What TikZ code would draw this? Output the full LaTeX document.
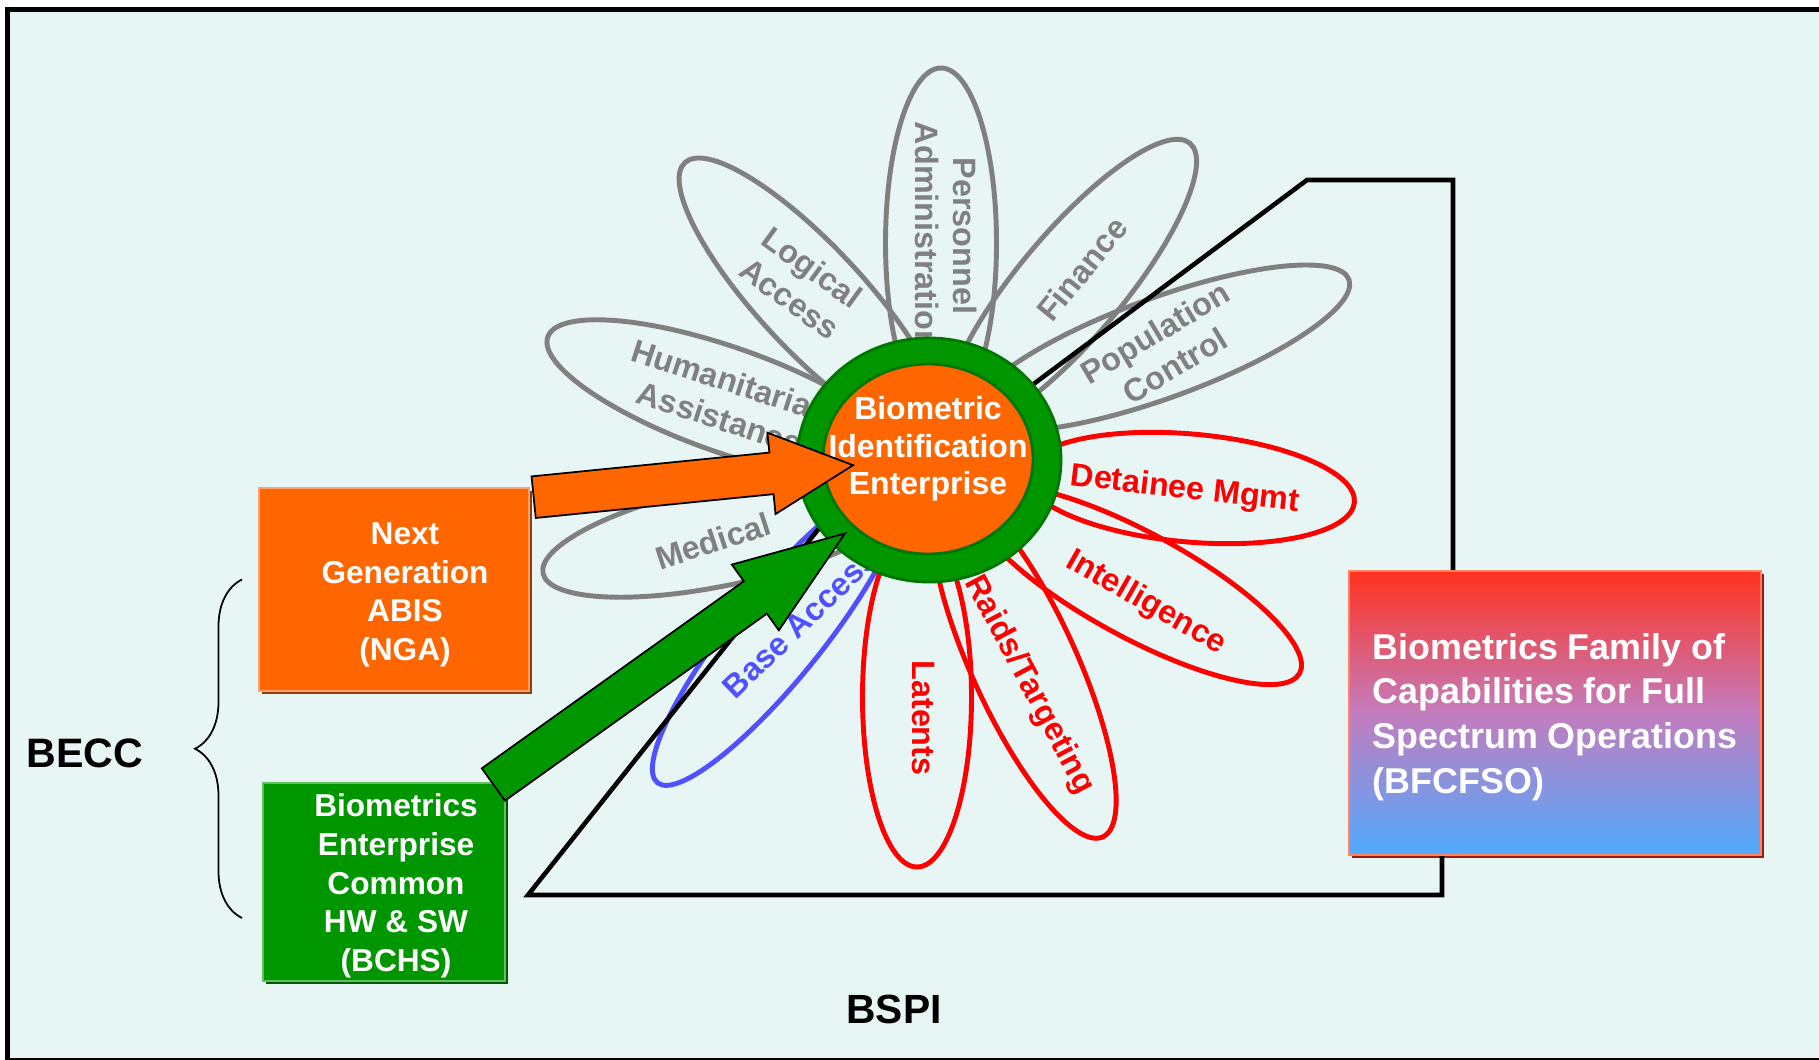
\documentclass[tikz,border=0pt]{standalone}
\usepackage{fontspec}
\setmainfont{Liberation Sans}
\usepackage{tikz}
\usetikzlibrary{shapes.geometric, shapes.arrows, decorations.pathreplacing, shadows}

\definecolor{bgcyan}{RGB}{232,245,245}
\definecolor{petalgray}{RGB}{128,128,128}
\definecolor{petalred}{RGB}{255,0,0}
\definecolor{petalblue}{RGB}{80,80,255}
\definecolor{hubgreen}{RGB}{0,150,0}
\definecolor{hubedge}{RGB}{0,118,0}
\definecolor{ngaorange}{RGB}{255,102,0}
\definecolor{ngalight}{RGB}{255,160,110}
\definecolor{ngadark}{RGB}{150,60,0}
\definecolor{bchslight}{RGB}{100,190,100}
\definecolor{bchsdark}{RGB}{0,90,0}
\definecolor{famtop}{RGB}{255,50,30}
\definecolor{fammid}{RGB}{195,125,190}
\definecolor{fambottom}{RGB}{80,170,255}
\definecolor{famlight}{RGB}{255,130,100}
\definecolor{famdark}{RGB}{150,30,10}

\begin{document}
\begin{tikzpicture}[
  every node/.style={font=\bfseries\fontsize{9.2}{11}\selectfont},
  petal/.style n args={2}{ellipse, draw=petalgray, line width=1.4pt, inner sep=0pt, minimum width=#1, minimum height=#2},
  graylabel/.style={text=petalgray, align=center, inner sep=0pt},
  redlabel/.style={text=petalred, align=center, inner sep=0pt},
  blockarrow/.style={single arrow, draw=black, line width=0.5pt, inner xsep=0pt, anchor=tip},
  box/.style={rectangle, inner sep=0pt, line width=0.6pt},
  boxtext/.style={text=white, align=center, inner sep=0pt},
  bspi/.style={line width=1.3pt},
]
  \useasboundingbox (0,0) rectangle (18.19,10.59);
  \fill[white] (0,0) rectangle (18.19,10.59);
  \draw[line width=1.4pt, fill=bgcyan] (0.075,10.495) rectangle (18.40,-0.015);

  % petals
  \node[petal={3.50cm}{1.11cm}, rotate=90] (pers) at (9.41,8.16) {};
  \node[petal={3.70cm}{1.05cm}, rotate=133] (logic) at (8.11,7.61) {};
  \node[petal={3.70cm}{1.05cm}, rotate=50] (fin) at (10.71,7.74) {};
  \node[petal={4.00cm}{1.00cm}, rotate=20] (pop) at (11.61,7.11) {};
  \node[petal={3.80cm}{1.05cm}, rotate=160.6] (hum) at (7.27,6.59) {};
  \node[petal={3.70cm}{1.00cm}, rotate=192] (med) at (7.24,5.24) {};
  \node[petal={3.80cm}{0.90cm}, rotate=231, draw=petalblue] (base) at (7.77,4.24) {};
  \node[petal={3.40cm}{1.09cm}, rotate=270, draw=petalred] (lat) at (9.17,3.62) {};
  \node[petal={3.80cm}{1.05cm}, rotate=294.5, draw=petalred] (raid) at (10.24,3.95) {};
  \node[petal={3.70cm}{1.05cm}, rotate=331.5, draw=petalred] (intel) at (11.37,4.74) {};
  \node[petal={3.30cm}{1.08cm}, rotate=355, draw=petalred] (det) at (11.90,5.71) {};

  \node[graylabel, rotate=-90] (perstext) at (9.46,8.23) {Personnel\\Administration};
  \node[graylabel, rotate=-36] (logictext) at (8.01,7.76) {Logical\\Access};
  \node[graylabel, rotate=51] (fintext) at (10.82,7.90) {Finance};
  \node[graylabel, rotate=31] (poptext) at (11.65,7.10) {Population\\Control};
  \node[graylabel, rotate=-18] (humtext) at (7.255,6.595) {Humanitarian\\Assistance};
  \node[graylabel, rotate=18] (medtext) at (7.13,5.18) {Medical};
  \node[graylabel, rotate=44, text=petalblue] (basetext) at (8.00,4.36) {Base Access};
  \node[redlabel, rotate=-90] (lattext) at (9.23,3.41) {Latents};
  \node[redlabel, rotate=-62] (raidtext) at (10.29,3.74) {Raids/Targeting};
  \node[redlabel, rotate=-29.6] (inteltext) at (11.46,4.56) {Intelligence};
  \node[redlabel, rotate=-6.6] (dettext) at (11.85,5.69) {Detainee Mgmt};

  % hub
  \node[ellipse, fill=hubgreen, draw=hubedge, line width=0.8pt, minimum width=2.64cm, minimum height=2.44cm] (hub) at (9.29,5.99) {};
  \node[ellipse, fill=ngaorange, draw=hubedge, line width=0.8pt, minimum width=2.10cm, minimum height=1.90cm] (core) at (9.28,6.00) {};
  \node[boxtext, font=\bfseries\fontsize{9.1}{10.7}\selectfont] (hubtext) at (9.28,6.10) {Biometric\\Identification\\Enterprise};

  % boxes
  \node[box, fill=ngaorange, draw=ngalight, general shadow={fill=ngadark, shadow xshift=0.03cm, shadow yshift=-0.03cm}, minimum width=2.70cm, minimum height=2.03cm] (nga) at (3.94,4.695) {};
  \node[boxtext, font=\bfseries\fontsize{9}{11}\selectfont] (ngatext) at (4.05,4.64) {Next\\Generation\\ABIS\\(NGA)};
  \node[box, fill=hubgreen, draw=bchslight, general shadow={fill=bchsdark, shadow xshift=0.03cm, shadow yshift=-0.03cm}, minimum width=2.42cm, minimum height=1.98cm] (bchs) at (3.84,1.774) {};
  \node[boxtext, font=\bfseries\fontsize{9}{11}\selectfont] (bchstext) at (3.96,1.73) {Biometrics\\Enterprise\\Common\\HW \& SW\\(BCHS)};
  \node[box, top color=famtop, bottom color=fambottom, middle color=fammid, draw=famlight, general shadow={fill=famdark, shadow xshift=0.03cm, shadow yshift=-0.03cm}, minimum width=4.12cm, minimum height=2.84cm] (bfcfso) at (15.55,3.46) {};
  \node[boxtext, anchor=west, align=left, font=\bfseries\fontsize{10.2}{12.7}\selectfont] (bfcfsotext) at (13.72,3.42) {Biometrics Family of\\Capabilities for Full\\Spectrum Operations\\(BFCFSO)};

  % BSPI lines
  \coordinate (lo) at (5.28,1.64);
  \coordinate (hi) at (13.07,8.79);
  \draw[bspi] (hub.212) -- (lo) -| ([xshift=-1.13cm]bfcfso.south);
  \draw[bspi] (hub.36) -- (hi) -| ([xshift=-1.02cm]bfcfso.north);

  % arrows into the hub
  \node[blockarrow, fill=ngaorange, rotate=5.72, inner ysep=0.20cm, minimum height=3.21cm, minimum width=0.80cm, single arrow head extend=0.20cm, single arrow tip angle=53] (ngaarrow) at (8.55,5.94) {};
  \node[blockarrow, fill=hubgreen, rotate=35.53, inner ysep=0.19cm, minimum height=4.32cm, minimum width=0.79cm, single arrow head extend=0.205cm, single arrow tip angle=40.3] (bchsarrow) at (8.47,5.27) {};

  % BECC brace
  \coordinate (brace top) at (2.42,4.795);
  \coordinate (brace bottom) at (2.42,1.41);
  \draw[decorate, decoration={brace, amplitude=0.47cm}, line width=0.5pt] (brace bottom) -- (brace top);
  \node[font=\bfseries\fontsize{11.7}{14}\selectfont] (becc) at (0.85,3.06) {BECC};
  \node[font=\bfseries\fontsize{11.6}{14}\selectfont] (bspilabel) at (8.94,0.50) {BSPI};
\end{tikzpicture}
\end{document}
